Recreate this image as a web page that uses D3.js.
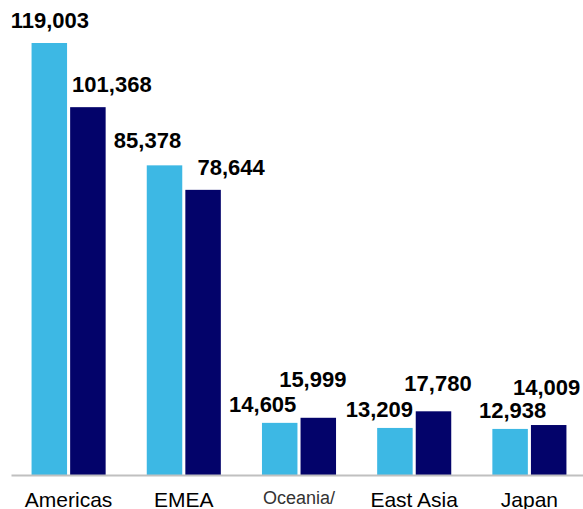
<!DOCTYPE html>
<html>
<head>
<meta charset="utf-8">
<script src="https://cdn.jsdelivr.net/npm/d3@7"></script>
<style>
  html, body { margin: 0; padding: 0; background: #ffffff; }
  svg { display: block; font-family: "Liberation Sans", Arial, Helvetica, sans-serif; }
</style>
</head>
<body>
<svg id="chart" width="583" height="509"></svg>
<script>
// Regions along the bottom axis
const regions = ["Americas", "EMEA", "Oceania/", "East Asia", "Japan"];

// Two series per region (left = light blue, right = navy)
const firstSeries = [119003, 85378, 14605, 13209, 12938];
const secondSeries = [101368, 78644, 15999, 17780, 14009];

// Label nudges [dx from bar centre, baseline offset above bar top], one per region
const firstLabelNudge = [[0.5, -15], [-17, -17], [-17, -11], [-15.5, -11], [2.5, -11]];
const secondLabelNudge = [[24, -15], [28, -15], [-5.5, -31], [4.5, -20], [-2, -30]];

const colors = ["#3db8e4", "#03036a"];
const width = 583, height = 509;
const baseY = 476, topY = 43;

const svg = d3.select("#chart");

const x = d3.scaleBand()
  .domain(regions)
  .range([11, 587])
  .paddingInner(0.357)
  .paddingOuter(0.1785);

const xSub = d3.scaleBand()
  .domain([0, 1])
  .range([0, x.bandwidth()])
  .paddingInner(0.08);

const y = d3.scaleLinear()
  .domain([0, d3.max(firstSeries.concat(secondSeries))])
  .range([baseY, topY]);

const series = [
  { values: firstSeries, nudge: firstLabelNudge },
  { values: secondSeries, nudge: secondLabelNudge }
];

const fmt = d3.format(",");

series.forEach((s, si) => {
  const g = svg.append("g").attr("class", "series-" + si);
  g.selectAll("rect")
    .data(regions)
    .join("rect")
    .attr("x", d => x(d) + xSub(si))
    .attr("y", (d, i) => y(s.values[i]))
    .attr("width", xSub.bandwidth())
    .attr("height", (d, i) => y(0) - y(s.values[i]))
    .attr("fill", colors[si]);
});

// Axis along the bottom
const axis = svg.append("g")
  .attr("transform", `translate(0,${baseY - 1})`)
  .call(d3.axisBottom(x).tickSize(0).tickSizeOuter(0));

axis.select(".domain")
  .attr("stroke", "#c0c0c0")
  .attr("stroke-width", 2);

axis.selectAll(".tick text")
  .attr("y", d => d === "Oceania/" ? 29 : 32)
  .attr("dy", 0)
  .attr("fill", d => d === "Oceania/" ? "#333333" : "#000000")
  .style("font-size", d => d === "Oceania/" ? "18px" : "21px")
  .style("font-family", "\"Liberation Sans\", Arial, sans-serif");

// Value labels
series.forEach((s, si) => {
  svg.append("g").attr("class", "labels-" + si)
    .selectAll("text")
    .data(regions)
    .join("text")
    .attr("x", (d, i) => x(d) + xSub(si) + xSub.bandwidth() / 2 + s.nudge[i][0])
    .attr("y", (d, i) => y(s.values[i]) + s.nudge[i][1])
    .attr("text-anchor", "middle")
    .attr("font-size", 22)
    .attr("font-weight", "bold")
    .attr("fill", "#000000")
    .text((d, i) => fmt(s.values[i]));
});
</script>
</body>
</html>
